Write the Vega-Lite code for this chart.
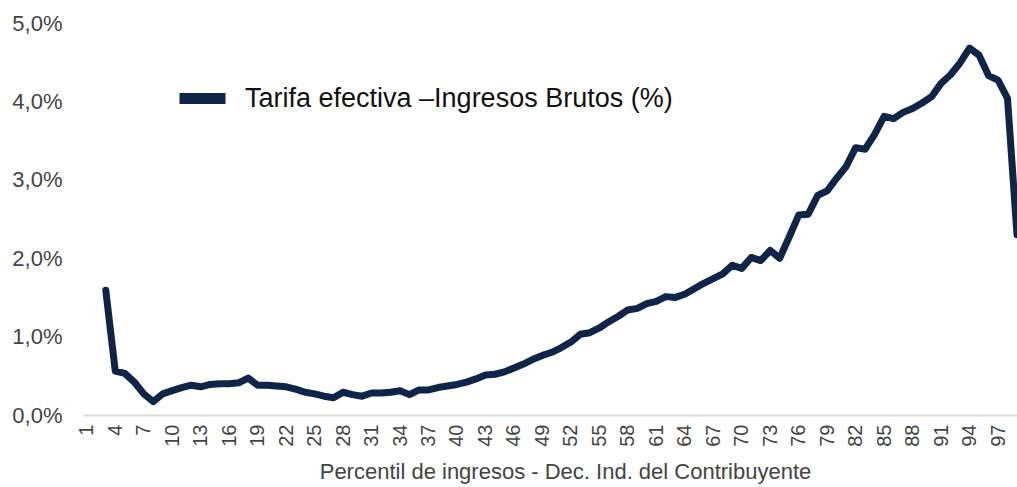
{
  "$schema": "https://vega.github.io/schema/vega-lite/v6.json",
  "width": 934,
  "height": 392,
  "autosize": "none",
  "padding": {"left": 83, "top": 23, "right": 0, "bottom": 72},
  "background": "white",
  "config": {"view": {"stroke": null}, "font": "Liberation Sans"},
  "data": {
    "values": [
      {"p": 3, "v": 1.59}, {"p": 4, "v": 0.56}, {"p": 5, "v": 0.53}, {"p": 6, "v": 0.42},
      {"p": 7, "v": 0.27}, {"p": 8, "v": 0.17}, {"p": 9, "v": 0.27}, {"p": 10, "v": 0.31},
      {"p": 11, "v": 0.35}, {"p": 12, "v": 0.38}, {"p": 13, "v": 0.36}, {"p": 14, "v": 0.39},
      {"p": 15, "v": 0.40}, {"p": 16, "v": 0.40}, {"p": 17, "v": 0.41}, {"p": 18, "v": 0.47},
      {"p": 19, "v": 0.38}, {"p": 20, "v": 0.38}, {"p": 21, "v": 0.37}, {"p": 22, "v": 0.36},
      {"p": 23, "v": 0.33}, {"p": 24, "v": 0.29}, {"p": 25, "v": 0.27}, {"p": 26, "v": 0.24},
      {"p": 27, "v": 0.22}, {"p": 28, "v": 0.29}, {"p": 29, "v": 0.26}, {"p": 30, "v": 0.24},
      {"p": 31, "v": 0.28}, {"p": 32, "v": 0.28}, {"p": 33, "v": 0.29}, {"p": 34, "v": 0.31},
      {"p": 35, "v": 0.26}, {"p": 36, "v": 0.32}, {"p": 37, "v": 0.32}, {"p": 38, "v": 0.35},
      {"p": 39, "v": 0.37}, {"p": 40, "v": 0.39}, {"p": 41, "v": 0.42}, {"p": 42, "v": 0.46},
      {"p": 43, "v": 0.51}, {"p": 44, "v": 0.52}, {"p": 45, "v": 0.55}, {"p": 46, "v": 0.60},
      {"p": 47, "v": 0.65}, {"p": 48, "v": 0.71}, {"p": 49, "v": 0.76}, {"p": 50, "v": 0.80},
      {"p": 51, "v": 0.86}, {"p": 52, "v": 0.93}, {"p": 53, "v": 1.03}, {"p": 54, "v": 1.05},
      {"p": 55, "v": 1.11}, {"p": 56, "v": 1.19}, {"p": 57, "v": 1.26}, {"p": 58, "v": 1.34},
      {"p": 59, "v": 1.36}, {"p": 60, "v": 1.42}, {"p": 61, "v": 1.45}, {"p": 62, "v": 1.51},
      {"p": 63, "v": 1.50}, {"p": 64, "v": 1.54}, {"p": 65, "v": 1.61}, {"p": 66, "v": 1.68},
      {"p": 67, "v": 1.74}, {"p": 68, "v": 1.80}, {"p": 69, "v": 1.91}, {"p": 70, "v": 1.87},
      {"p": 71, "v": 2.01}, {"p": 72, "v": 1.97}, {"p": 73, "v": 2.10}, {"p": 74, "v": 2.00},
      {"p": 75, "v": 2.27}, {"p": 76, "v": 2.55}, {"p": 77, "v": 2.56}, {"p": 78, "v": 2.80},
      {"p": 79, "v": 2.86}, {"p": 80, "v": 3.02}, {"p": 81, "v": 3.17}, {"p": 82, "v": 3.41},
      {"p": 83, "v": 3.39}, {"p": 84, "v": 3.58}, {"p": 85, "v": 3.81}, {"p": 86, "v": 3.78},
      {"p": 87, "v": 3.86}, {"p": 88, "v": 3.91}, {"p": 89, "v": 3.98}, {"p": 90, "v": 4.06},
      {"p": 91, "v": 4.23}, {"p": 92, "v": 4.34}, {"p": 93, "v": 4.49}, {"p": 94, "v": 4.68},
      {"p": 95, "v": 4.59}, {"p": 96, "v": 4.33}, {"p": 97, "v": 4.27}, {"p": 98, "v": 4.04},
      {"p": 99, "v": 2.30}
    ]
  },
  "transform": [{"calculate": "'Tarifa efectiva –Ingresos Brutos (%)'", "as": "serie"}],
  "mark": {"type": "line", "strokeWidth": 7, "strokeJoin": "round", "strokeCap": "round", "clip": true},
  "encoding": {
    "x": {
      "field": "p",
      "type": "quantitative",
      "scale": {"domain": [0.6, 99], "nice": false, "zero": false},
      "axis": {
        "values": [1, 4, 7, 10, 13, 16, 19, 22, 25, 28, 31, 34, 37, 40, 43, 46, 49, 52, 55, 58, 61, 64, 67, 70, 73, 76, 79, 82, 85, 88, 91, 94, 97],
        "labelAngle": -90,
        "labelFontSize": 20,
        "labelColor": "#444444",
        "labelPadding": 9,
        "labelFlush": false,
        "labelOverlap": false,
        "ticks": false,
        "grid": false,
        "domainColor": "#d9d9d9",
        "domainWidth": 2,
        "title": "Percentil de ingresos - Dec. Ind. del Contribuyente",
        "titleFontSize": 22,
        "titleFontWeight": "normal",
        "titleColor": "#444444",
        "titleX": 482,
        "titleY": 63,
        "titleAlign": "center",
        "titleBaseline": "alphabetic"
      }
    },
    "y": {
      "field": "v",
      "type": "quantitative",
      "scale": {"domain": [0, 5], "nice": false},
      "axis": {
        "values": [0, 1, 2, 3, 4, 5],
        "labelExpr": "replace(format(datum.value, '.1f'), '.', ',') + '%'",
        "labelFontSize": 22,
        "labelColor": "#444444",
        "labelPadding": 21,
        "ticks": false,
        "domain": false,
        "grid": false,
        "title": null
      }
    },
    "color": {
      "field": "serie",
      "type": "nominal",
      "scale": {"range": ["#0f2548"]},
      "legend": {
        "title": null,
        "orient": "none",
        "legendX": 91,
        "legendY": 47,
        "symbolType": "stroke",
        "symbolSize": 2116,
        "symbolStrokeWidth": 11,
        "labelFontSize": 27,
        "labelColor": "#111111",
        "labelOffset": 14,
        "labelLimit": 0,
        "padding": 0
      }
    }
  }
}
